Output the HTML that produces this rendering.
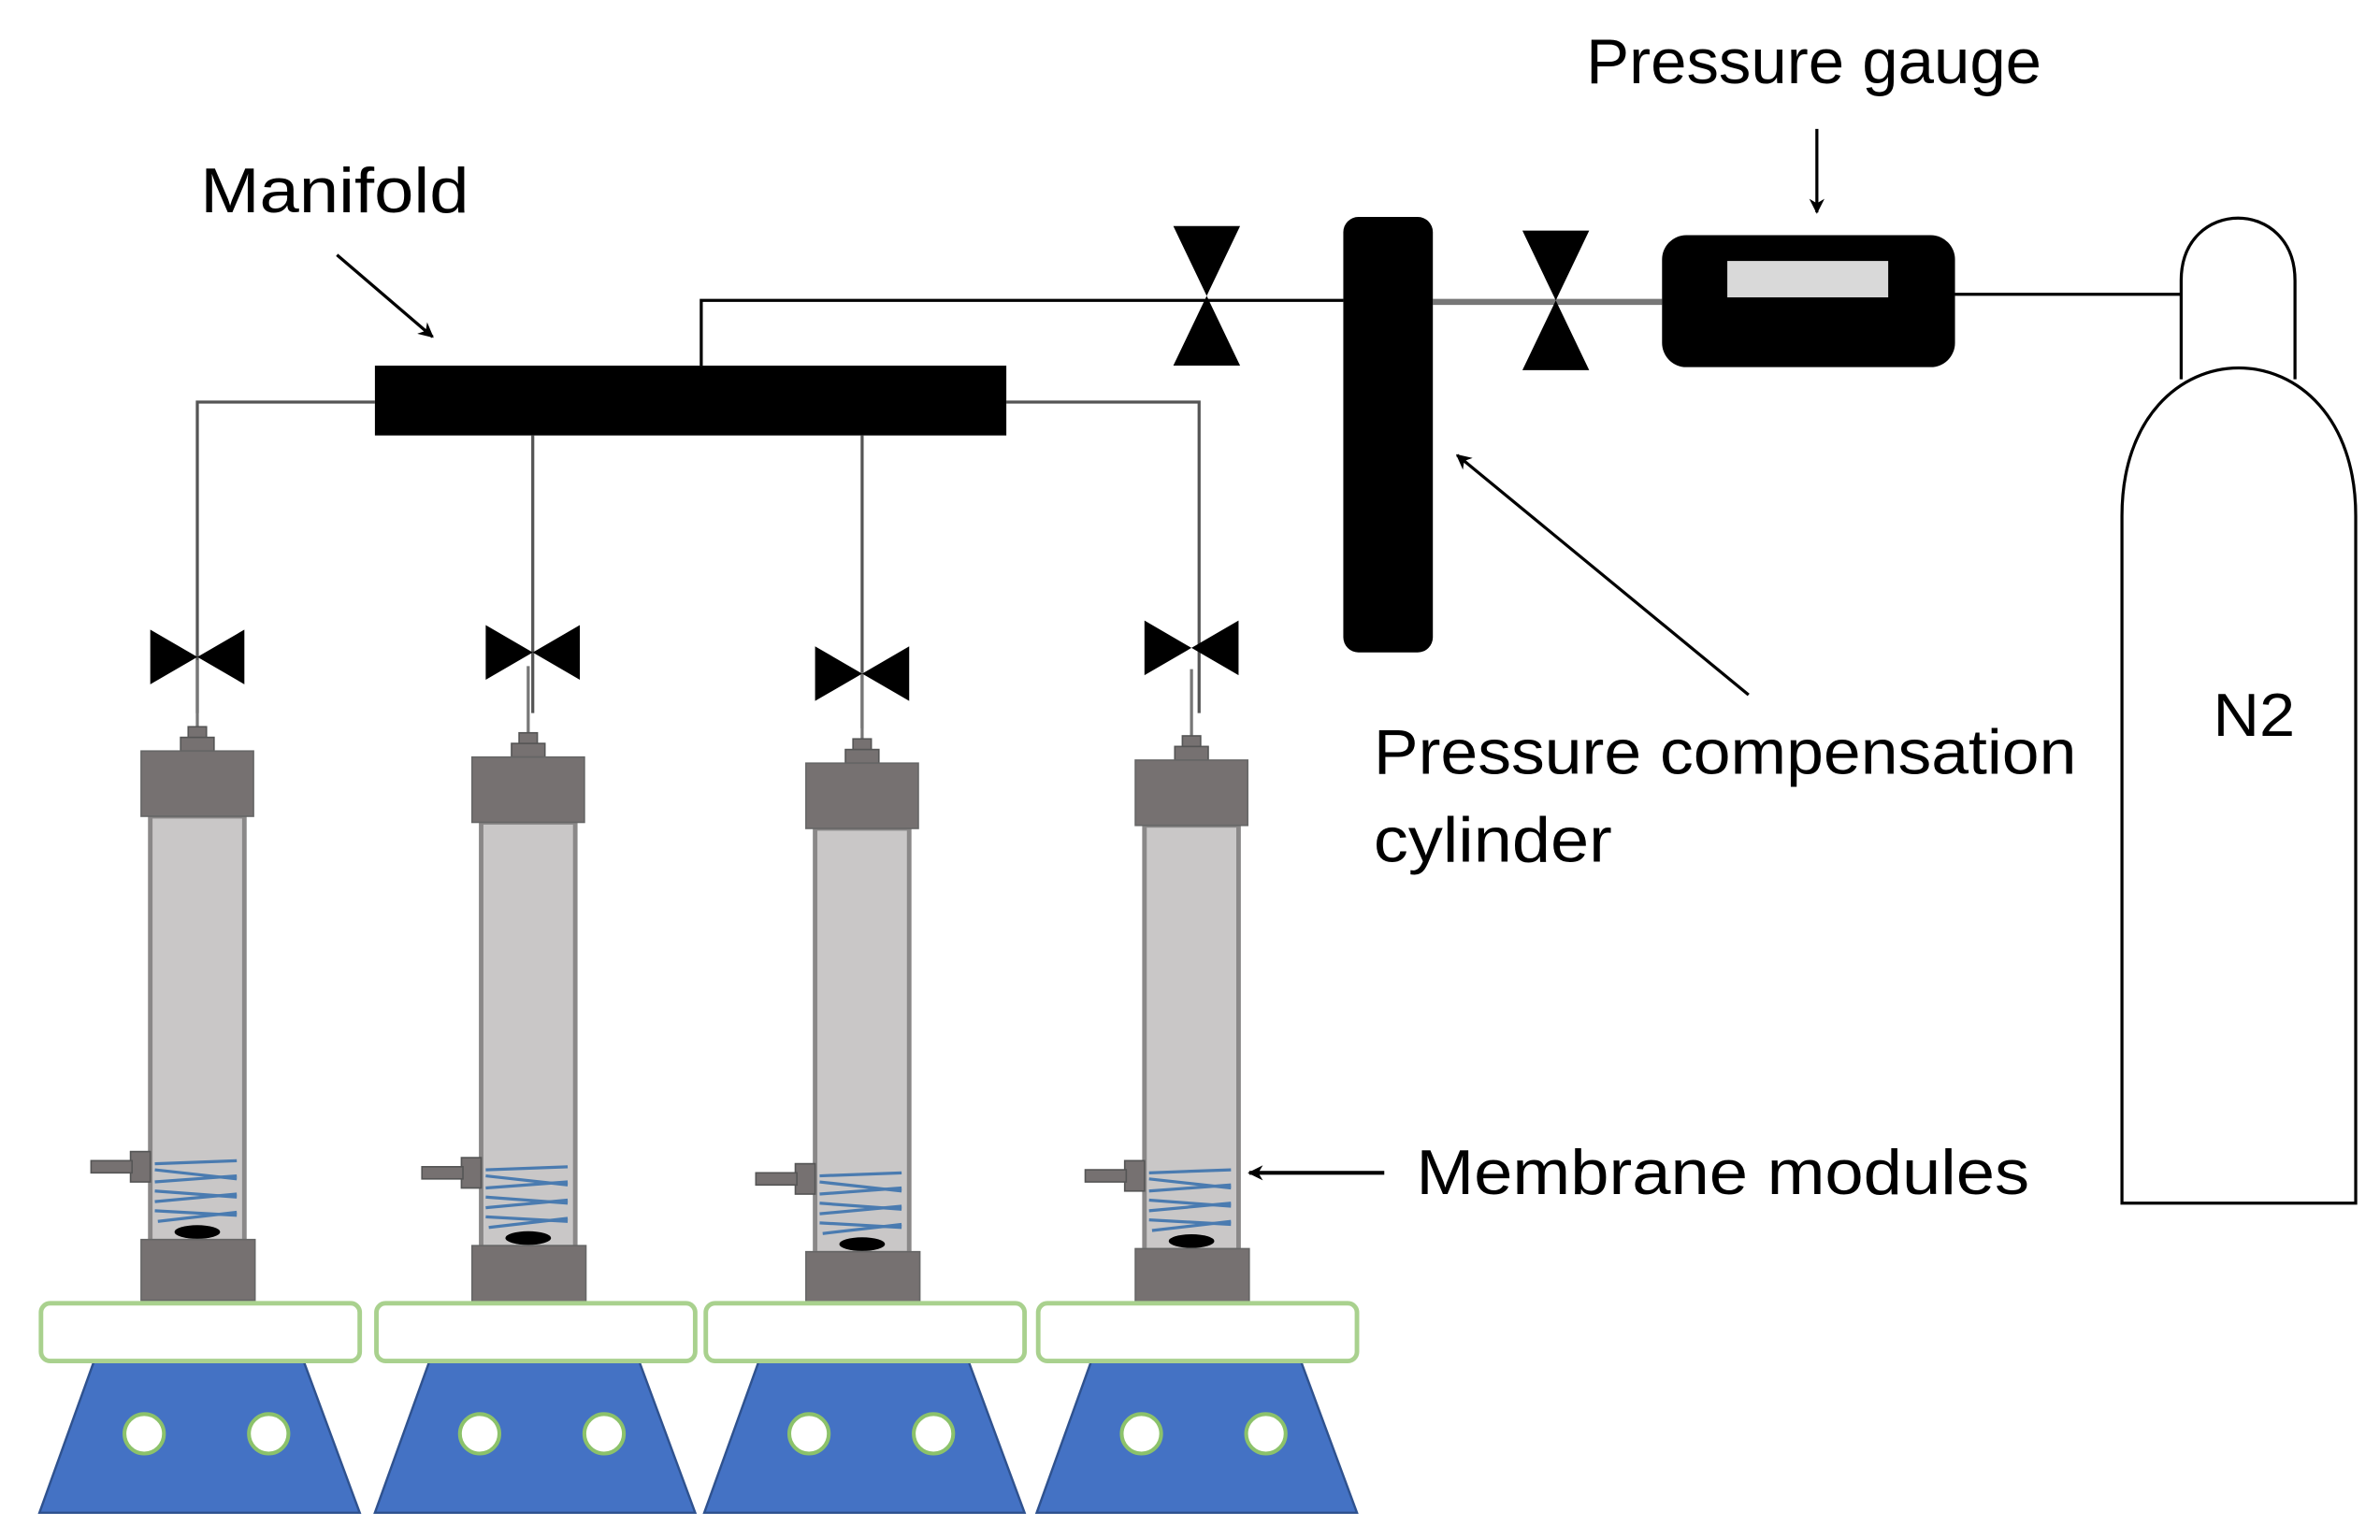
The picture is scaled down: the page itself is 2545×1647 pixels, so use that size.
<!DOCTYPE html>
<html><head><meta charset="utf-8"><style>
html,body{margin:0;padding:0;background:#fff;}
svg{display:block;}
text{font-family:"Liberation Sans",sans-serif;fill:#000;}
</style></head><body>
<svg width="2545" height="1647" viewBox="0 0 1568 1015" preserveAspectRatio="none" xmlns="http://www.w3.org/2000/svg">
<defs>
<marker id="ah" markerWidth="10" markerHeight="10" refX="9" refY="5" orient="auto" markerUnits="userSpaceOnUse"><path d="M0,0 L10,5 L0,10 L3,5 z" fill="#000"/></marker>
<g id="mod">
  <line x1="0" y1="-60" x2="0" y2="-14" stroke="#777" stroke-width="2"/>
  <rect x="-6" y="-16" width="12" height="8" fill="#767171" stroke="#555" stroke-width="1"/>
  <rect x="-11" y="-9" width="22" height="9" fill="#767171" stroke="#555" stroke-width="1"/>
  <rect x="-31" y="43" width="62" height="280" fill="#c9c7c7" stroke="#8a8888" stroke-width="3"/>
  <rect x="-37" y="0" width="74" height="43" fill="#767171" stroke="#666" stroke-width="1"/>
  <g stroke="#4a7bb0" stroke-width="2" fill="none">
    <line x1="-28" y1="272" x2="26" y2="270"/>
    <line x1="-28" y1="276" x2="26" y2="282"/>
    <line x1="-28" y1="284" x2="26" y2="280"/>
    <line x1="-28" y1="290" x2="26" y2="294"/>
    <line x1="-28" y1="297" x2="26" y2="292"/>
    <line x1="-28" y1="303" x2="26" y2="306"/>
    <line x1="-26" y1="310" x2="26" y2="304"/>
  </g>
  <ellipse cx="0" cy="317" rx="15" ry="4.5" fill="#000"/>
  <rect x="-37" y="322" width="75" height="40" fill="#767171" stroke="#666" stroke-width="1"/>
  <rect x="-44" y="264" width="13" height="20" fill="#767171" stroke="#555" stroke-width="1"/>
  <rect x="-70" y="270" width="27" height="8" fill="#767171" stroke="#555" stroke-width="1"/>
</g>
<g id="stand">
  <path d="M36,897 L174,897 L211,997 L0,997 Z" fill="#4472c4" stroke="#2f528f" stroke-width="1.5"/>
  <rect x="1" y="859" width="210" height="38" rx="6" fill="#fff" stroke="#a9d18e" stroke-width="3"/>
  <circle cx="69" cy="945" r="13" fill="#fff" stroke="#8cc26a" stroke-width="2.5"/>
  <circle cx="151" cy="945" r="13" fill="#fff" stroke="#8cc26a" stroke-width="2.5"/>
</g>
<path id="hv" d="M-31,-18 L31,18 L31,-18 L-31,18 Z" fill="#000"/>
<path id="vv" d="M-22,-46 L22,-46 L-22,46 L22,46 Z" fill="#000"/>
</defs>

<!-- pipes -->
<g stroke="#555" stroke-width="2" fill="none">
  <polyline points="247,265 130,265 130,470"/>
  <polyline points="663,265 790,265 790,470"/>
  <line x1="351" y1="287" x2="351" y2="470"/>
  <line x1="568" y1="287" x2="568" y2="480"/>
</g>
<polyline points="462,241 462,198 885,198" stroke="#000" stroke-width="2" fill="none"/>
<line x1="944" y1="199" x2="1095" y2="199" stroke="#777" stroke-width="4"/>
<line x1="1288" y1="194" x2="1437" y2="194" stroke="#000" stroke-width="2"/>

<!-- manifold -->
<rect x="247" y="241" width="416" height="46" fill="#000"/>

<!-- modules -->
<use href="#mod" x="130" y="495"/>
<use href="#mod" x="348" y="499"/>
<use href="#mod" x="568" y="503"/>
<use href="#mod" x="785" y="501"/>

<!-- stands -->
<use href="#stand" x="26" y="0"/>
<use href="#stand" x="247" y="0"/>
<use href="#stand" x="464" y="0"/>
<use href="#stand" x="683" y="0"/>

<!-- valves -->
<use href="#hv" x="130" y="433"/>
<use href="#hv" x="351" y="430"/>
<use href="#hv" x="568" y="444"/>
<use href="#hv" x="785" y="427"/>
<use href="#vv" x="795" y="195"/>
<use href="#vv" x="1025" y="198"/>

<!-- compensation cylinder -->
<rect x="885" y="143" width="59" height="287" rx="10" fill="#000"/>

<!-- gauge -->
<rect x="1095" y="155" width="193" height="87" rx="16" fill="#000"/>
<rect x="1138" y="172" width="106" height="24" fill="#d9d9d9"/>

<!-- N2 tank -->
<path d="M1437,250 L1437,185 C1437,130 1512,130 1512,185 L1512,250" fill="#fff" stroke="#000" stroke-width="2"/>
<path d="M1398,793 L1398,340 C1398,210 1552,210 1552,340 L1552,793 Z" fill="#fff" stroke="#000" stroke-width="2"/>
<text x="1458" y="485" font-size="40" textLength="54" lengthAdjust="spacingAndGlyphs">N2</text>

<!-- labels and arrows -->
<text x="132" y="140" font-size="42" textLength="177" lengthAdjust="spacingAndGlyphs">Manifold</text>
<line x1="222" y1="168" x2="285" y2="222" stroke="#000" stroke-width="2" marker-end="url(#ah)"/>
<text x="1045" y="55" font-size="42" textLength="300" lengthAdjust="spacingAndGlyphs">Pressure gauge</text>
<line x1="1197" y1="85" x2="1197" y2="140" stroke="#000" stroke-width="2" marker-end="url(#ah)"/>
<text x="905" y="510" font-size="42" textLength="463" lengthAdjust="spacingAndGlyphs">Pressure compensation</text>
<text x="905" y="568" font-size="42" textLength="157" lengthAdjust="spacingAndGlyphs">cylinder</text>
<line x1="1152" y1="458" x2="960" y2="300" stroke="#000" stroke-width="2" marker-end="url(#ah)"/>
<text x="933" y="787" font-size="42" textLength="404" lengthAdjust="spacingAndGlyphs">Membrane modules</text>
<line x1="912" y1="773" x2="823" y2="773" stroke="#000" stroke-width="2.5" marker-end="url(#ah)"/>
</svg>
</body></html>
